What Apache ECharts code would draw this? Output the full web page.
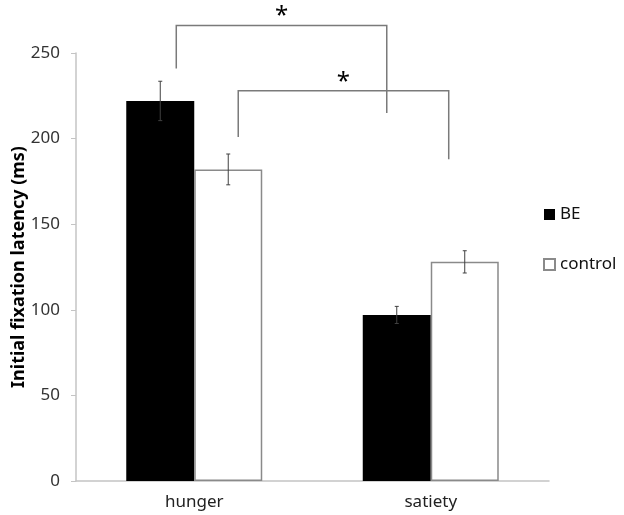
<!DOCTYPE html>
<html>
<head>
<meta charset="utf-8">
<script src="https://cdn.jsdelivr.net/npm/echarts@6/dist/echarts.min.js"></script>
<style>
  html, body { margin: 0; padding: 0; background: #fff; }
  #chart { width: 624px; height: 515px; }
</style>
</head>
<body>
<div id="chart"></div>
<script>
var categories = ['hunger', 'satiety'];
var beValues = [222, 97];
var beErrors = [11.5, 5];
var controlValues = [182, 128];
var controlErrors = [9, 6.5];
// significance brackets: [leftX, leftBottom, top, rightX, rightBottom] (x in category units, 0..2)
var brackets = [
    [0.424, 241, 266, 1.314, 215],
    [0.686, 201, 228, 1.576, 188]
];

var font = '"Noto Sans", "Open Sans", sans-serif';
var barWidthPct = 0.2875;

function errorSeries(name, values, errors, side) {
    return {
        type: 'custom',
        name: name + ' err',
        xAxisIndex: 0,
        yAxisIndex: 0,
        silent: true,
        z: 5,
        data: values.map(function (v, i) { return [i, v, errors[i]]; }),
        renderItem: function (params, api) {
            var idx = api.value(0);
            var v = api.value(1);
            var e = api.value(2);
            var band = api.size([1, 0])[0];
            var off = side * band * barWidthPct / 2;
            var top = api.coord([idx, v + e]);
            var bot = api.coord([idx, v - e]);
            var x = top[0] + off;
            var style = { stroke: '#404040', lineWidth: 1 };
            return {
                type: 'group',
                children: [
                    { type: 'line', shape: { x1: x, y1: top[1], x2: x, y2: bot[1] }, style: style },
                    { type: 'line', shape: { x1: x - 2, y1: top[1], x2: x + 2, y2: top[1] }, style: style },
                    { type: 'line', shape: { x1: x - 2, y1: bot[1], x2: x + 2, y2: bot[1] }, style: style }
                ]
            };
        }
    };
}

var chart = echarts.init(document.getElementById('chart'));
chart.setOption({
    animation: false,
    textStyle: { fontFamily: font },
    grid: { left: 76, right: 75, top: 53, bottom: 34, outerBoundsMode: 'none', containLabel: false },
    legend: {
        orient: 'vertical',
        left: 538,
        top: 201,
        icon: 'rect',
        itemWidth: 11,
        itemHeight: 11,
        itemGap: 33,
        data: ['BE', 'control'],
        textStyle: { fontSize: 17, color: '#111', fontFamily: font }
    },
    xAxis: [{
        type: 'category',
        data: categories,
        axisLine: { lineStyle: { color: '#c4c4c4', width: 1.5 } },
        axisTick: { show: false },
        axisLabel: { fontSize: 17, color: '#222', margin: 13 }
    }, {
        type: 'value',
        min: 0,
        max: 2,
        show: false
    }],
    yAxis: {
        type: 'value',
        min: 0,
        max: 250,
        interval: 50,
        name: 'Initial fixation latency (ms)',
        nameLocation: 'middle',
        nameGap: 48,
        nameMoveOverlap: false,
        nameTextStyle: { fontSize: 18, fontWeight: 'bold', color: '#000' },
        axisLine: { show: true, lineStyle: { color: '#c4c4c4', width: 1.5 } },
        axisTick: { show: true, length: 5, lineStyle: { color: '#c4c4c4' } },
        axisLabel: { fontSize: 17, color: '#333', margin: 16 },
        splitLine: { show: false }
    },
    series: [{
        name: 'BE',
        type: 'bar',
        data: beValues,
        barWidth: (barWidthPct * 100) + '%',
        barGap: '0%',
        itemStyle: { color: '#000' }
    }, {
        name: 'control',
        type: 'bar',
        data: controlValues,
        barWidth: (barWidthPct * 100) + '%',
        itemStyle: { color: '#fff', borderColor: '#8a8a8a', borderWidth: 1.5 }
    },
    errorSeries('BE', beValues, beErrors, -1),
    errorSeries('control', controlValues, controlErrors, 1),
    {
        type: 'custom',
        name: 'brackets',
        xAxisIndex: 1,
        yAxisIndex: 0,
        silent: true,
        clip: false,
        z: 6,
        data: brackets,
        renderItem: function (params, api) {
            var lb = api.coord([api.value(0), api.value(1)]);
            var lt = api.coord([api.value(0), api.value(2)]);
            var rt = api.coord([api.value(3), api.value(2)]);
            var rb = api.coord([api.value(3), api.value(4)]);
            return {
                type: 'group',
                children: [{
                    type: 'polyline',
                    shape: { points: [lb, lt, rt, rb] },
                    style: { stroke: '#7a7a7a', lineWidth: 1.5, fill: null }
                }, {
                    type: 'text',
                    x: (lt[0] + rt[0]) / 2,
                    y: lt[1] + 3,
                    style: {
                        text: '*',
                        fontSize: 24,
                        fontFamily: font,
                        fill: '#000',
                        align: 'center',
                        verticalAlign: 'bottom'
                    }
                }]
            };
        }
    }]
});
</script>
</body>
</html>
